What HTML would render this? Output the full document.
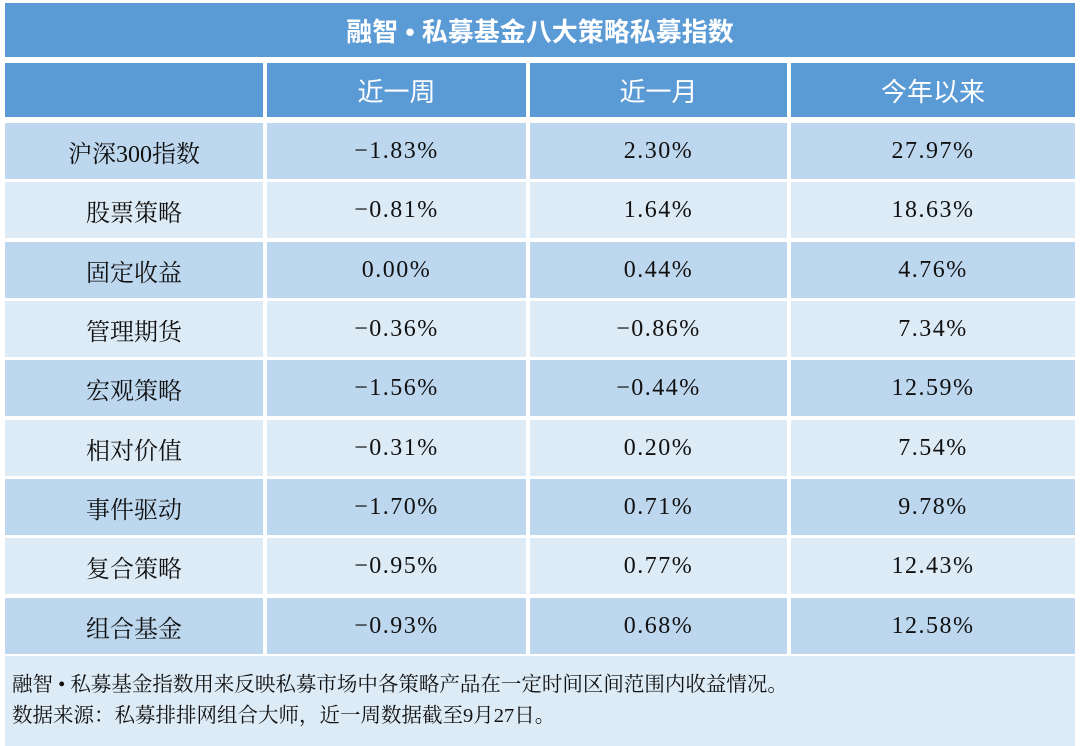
<!DOCTYPE html>
<html><head><meta charset="utf-8"><style>
body{margin:0;width:1080px;height:746px;background:#fff;position:relative;overflow:hidden}
.c{position:absolute;display:flex;align-items:center;justify-content:center;box-sizing:border-box}
.h{background:#5b9bd5;color:#fff;font-family:"Liberation Sans","Noto Sans CJK SC",sans-serif;font-size:26px}
.d{background:#bdd7ee}.l{background:#ddebf7}
.t{font-family:"Liberation Serif","Noto Serif CJK SC",serif;font-size:24px;color:#111}
.v{letter-spacing:1.5px}
</style></head><body>
<div class="c h" style="left:5px;top:3px;width:1070px;height:54px;font-weight:bold">融智 • 私募基金八大策略私募指数</div>
<div id="tbl"></div>
<div class="c l" style="left:5px;top:656px;width:1070px;height:90px;display:block;padding:14px 0 0 7px;font-family:'Liberation Serif','Noto Serif CJK SC',serif;font-size:20.5px;line-height:31px;color:#111">融智 • 私募基金指数用来反映私募市场中各策略产品在一定时间区间范围内收益情况。<br>数据来源：私募排排网组合大师，近一周数据截至9月27日。</div>
<script>
const headers=["","近一周","近一月","今年以来"];
const names=["沪深300指数","股票策略","固定收益","管理期货","宏观策略","相对价值","事件驱动","复合策略","组合基金"];
const week=["−1.83%","−0.81%","0.00%","−0.36%","−1.56%","−0.31%","−1.70%","−0.95%","−0.93%"];
const month=["2.30%","1.64%","0.44%","−0.86%","−0.44%","0.20%","0.71%","0.77%","0.68%"];
const ytd=["27.97%","18.63%","4.76%","7.34%","12.59%","7.54%","9.78%","12.43%","12.58%"];
const colX=[5,267,530,791],colW=[258,259,257,284];
const root=document.getElementById('tbl');
function cell(x,y,w,h,cls,txt,name){const e=document.createElement('div');e.className='c '+cls;e.style.cssText=`left:${x}px;top:${y}px;width:${w}px;height:${h}px`;e.textContent=txt;


root.appendChild(e);}
headers.forEach((h,i)=>cell(colX[i],63,colW[i],54,'h',h,'header-cell'));
names.forEach((n,r)=>{const y=Math.round(123+r*59.35),cls=(r%2?'l':'d')+' t';
const vals=[n,week[r],month[r],ytd[r]];
vals.forEach((v,i)=>cell(colX[i],y,colW[i],56,cls+(i?' v':''),v,i?'value-cell':'strategy-name'));});
</script>
</body></html>
